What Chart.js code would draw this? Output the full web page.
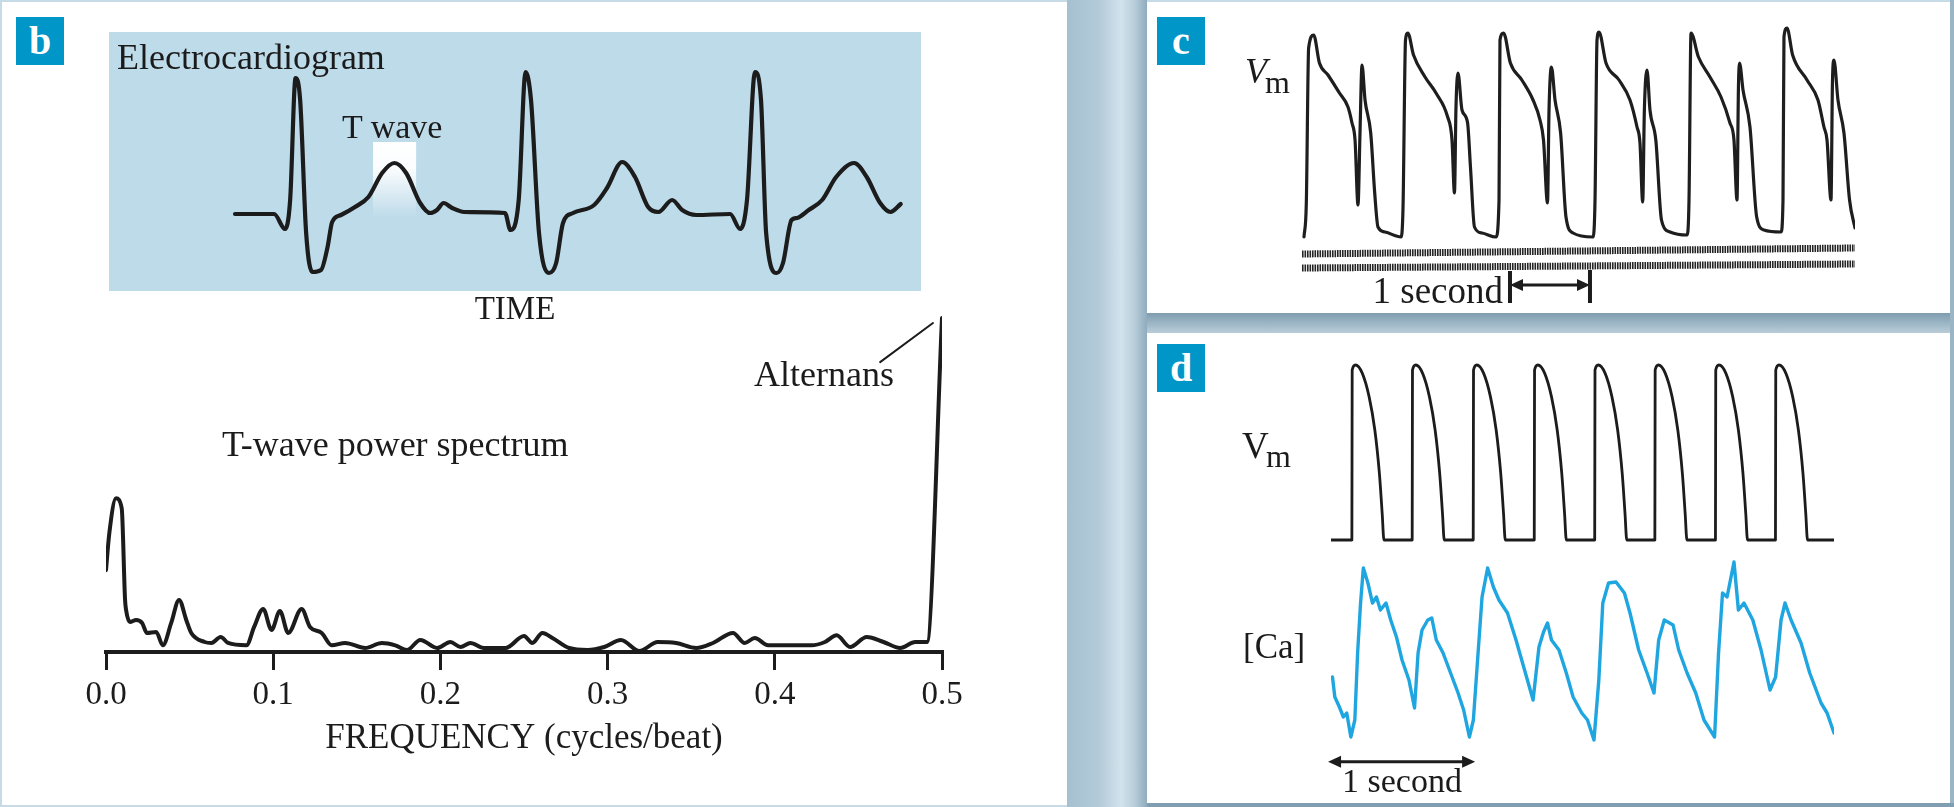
<!DOCTYPE html>
<html>
<head>
<meta charset="utf-8">
<script src="https://cdn.jsdelivr.net/npm/chart.js@4.4.0/dist/chart.umd.min.js"></script>
<style>
html, body { margin: 0; padding: 0; }
body {
  width: 1954px; height: 807px; position: relative; overflow: hidden;
  background: #c6dbe6;
  font-family: "Liberation Serif", "Times New Roman", serif; color: #1b1b1b;
}
.abs { position: absolute; }
canvas { position: absolute; }
#panelB { left: 2px; top: 2px; width: 1065px; height: 803px; background: #fff; }
#column { left: 1067px; top: 0; width: 80px; height: 807px;
  background: linear-gradient(90deg, #a5c0d0 0%, #b3cbd9 40%, #d2e3ec 68%, #b6ccd9 85%, #8fabbd 100%); }
#gapCD { left: 1147px; top: 313px; width: 807px; height: 20px;
  background: linear-gradient(180deg, #7f9db0 0%, #98b3c3 45%, #b9cdd8 100%); }
#panelC { left: 1147px; top: 2px; width: 803px; height: 311px; background: #fff; }
#panelD { left: 1147px; top: 333px; width: 803px; height: 470px; background: #fff; }
#rightEdge { left: 1950px; top: 0; width: 4px; height: 807px; background: #9ab6c6; }
#bottomD { left: 1147px; top: 803px; width: 807px; height: 4px; background: #7f9eb1; }
#ecgBox { left: 109px; top: 32px; width: 812px; height: 259px; background: #bedbea; }
.badge { width: 48px; height: 48px; background: #0096c8; color: #fff; font-weight: bold;
  font-size: 40px; display: flex; align-items: center; justify-content: center; line-height: 1; }
</style>
</head>
<body>
<div class="abs" id="panelB"></div>
<div class="abs" id="column"></div>
<div class="abs" id="panelC"></div>
<div class="abs" id="gapCD"></div>
<div class="abs" id="panelD"></div>
<div class="abs" id="rightEdge"></div>
<div class="abs" id="bottomD"></div>
<div class="abs" id="ecgBox"></div>
<div class="abs badge" style="left:16px;top:17px">b</div>
<div class="abs badge" style="left:1157px;top:17px">c</div>
<div class="abs badge" style="left:1157px;top:344px">d</div>

<canvas id="ecg" width="812" height="259" style="left:109px;top:32px"></canvas>
<canvas id="spectrum" width="1067" height="480" style="left:0;top:300px"></canvas>
<canvas id="alternans" width="807" height="313" style="left:1147px;top:0"></canvas>
<canvas id="calcium" width="807" height="470" style="left:1147px;top:333px"></canvas>

<script>
// DATA

// b: ECG, time (ms) vs voltage (mV)
const ecgTrace = [
  [0,0],[137,0],[175,-0.15],[193,0.14],[212,1.36],[228,1.14],[249,-0.19],[271,-0.58],[301,-0.56],
  [324,-0.33],[340,-0.08],[371,-0.01],[420,0.07],[467,0.17],[515,0.41],[558,0.51],[599,0.41],
  [648,0.11],[683,0.01],[707,0.04],[730,0.11],[760,0.06],[802,0.02],[945,0.01],[964,-0.16],
  [993,0.14],[1017,1.42],[1036,1.14],[1064,-0.19],[1099,-0.59],[1124,-0.49],[1148,-0.09],
  [1183,0.01],[1257,0.09],[1302,0.26],[1355,0.52],[1400,0.37],[1446,0.07],[1482,0.02],
  [1530,0.14],[1565,0.04],[1614,-0.01],[1733,0],[1768,-0.15],[1792,0.14],[1820,1.42],
  [1841,1.14],[1859,-0.19],[1896,-0.59],[1918,-0.49],[1948,-0.06],[1967,-0.04],[2008,0.04],
  [2055,0.14],[2104,0.37],[2167,0.51],[2211,0.37],[2258,0.11],[2294,0.02],[2330,0.10]
];
const tWaveWindow = [483, 634];   // ms
const tWaveLevels = [0.72, -0.04]; // mV

// b: T-wave power spectrum, frequency (cycles/beat) vs power
const spectrum = [
  [0,24.5],[0.002,35.6],[0.006,46],[0.0094,43],[0.0114,15.6],[0.012,12.6],[0.0143,9],[0.018,9.6],
  [0.0216,8.7],[0.0245,5.7],[0.030,6],[0.034,2],[0.039,8.7],[0.0437,15.6],[0.048,9.6],[0.051,5.7],
  [0.059,3],[0.063,2.7],[0.0686,4.5],[0.073,2.7],[0.084,2],[0.0886,7.5],[0.094,12.9],[0.099,6.6],
  [0.104,12.3],[0.109,5.7],[0.117,12.9],[0.122,7.5],[0.129,5.7],[0.135,2],[0.143,2.7],[0.155,1.2],
  [0.165,2.7],[0.173,2],[0.180,0.6],[0.188,3.6],[0.198,1.2],[0.206,3],[0.212,1.5],[0.218,2.7],
  [0.226,1.2],[0.239,1.2],[0.250,4.8],[0.255,2.7],[0.261,5.7],[0.267,4.2],[0.277,1.2],[0.288,0.6],
  [0.298,1.5],[0.308,3.6],[0.319,0.3],[0.330,3],[0.341,2.7],[0.353,1.2],[0.363,2.7],[0.375,5.7],
  [0.382,2.7],[0.388,4.2],[0.396,2],[0.422,2],[0.430,3],[0.437,5],[0.445,1.5],[0.455,4.5],
  [0.465,3],[0.475,1.2],[0.484,3],[0.491,3],[0.5,100]
];
const alternansLeader = [[0.463,86.8],[0.4946,98.5]];
const freqTicks = [0, 0.1, 0.2, 0.3, 0.4, 0.5];

// c: action potential alternans, time (ms) vs Vm (mV)
const vmAlternans = [
  [25,-90],[54,-73],[83,4.5],[146,11],[218,-3],[325,-9],[468,-18],[575,-25],[625,-33],[663,-41.5],
  [700,-74],[725,-38],[750,-4],[788,-21.5],[859,-38],[909,-68],[950,-85],[1038,-87.5],[1238,-90],
  [1263,-75],[1294,8.5],[1323,12],[1394,1],[1538,-10],[1675,-18],[1821,-30],[1875,-41.5],[1906,-68],
  [1925,-25],[1950,-8],[2000,-26.5],[2070,-33],[2106,-55],[2156,-85],[2250,-88],[2425,-90],
  [2463,-71.5],[2475,8.5],[2520,12],[2605,-3],[2748,-11.5],[2888,-21.5],[2975,-31.5],[3019,-41.5],
  [3069,-73],[3088,-26.5],[3118,-5],[3163,-21.5],[3233,-38],[3300,-80],[3388,-88],[3638,-90],
  [3663,-71.5],[3688,8.5],[3713,12.5],[3800,-3],[3963,-11.5],[4100,-21.5],[4188,-35],[4225,-43],
  [4259,-72.5],[4280,-26.5],[4313,-6.5],[4350,-26.5],[4423,-41.5],[4494,-81.5],[4600,-87.5],
  [4813,-89],[4838,-71.5],[4863,12],[4956,0],[5100,-10],[5238,-20],[5350,-33],[5400,-41.5],
  [5438,-71.5],[5456,-15],[5470,-3],[5513,-16.5],[5600,-35],[5684,-80],[5775,-86.5],[5988,-87.5],
  [6013,-71.5],[6025,10],[6063,14.5],[6133,1],[6313,-11.5],[6450,-21.5],[6525,-35],[6563,-41.5],
  [6613,-71.5],[6631,-13],[6650,-1.5],[6700,-21.5],[6775,-38],[6845,-71.5],[6913,-85.5]
];
const timeMarkTop = [[0,-98.5],[6913,-95.5]];
const timeMarkBottom = [[0,-105.5],[6913,-103.5]];

// d: paced Vm (mV) and [Ca] (nM), time (ms)
const vmPaced = [
  [0,-85],
  [142,-85],[144,17],[166,20],[213,15],[259,1],[298,-19],[329,-45],[348,-69],[360,-85],
  [552,-85],[554,17],[576,20],[623,15],[669,1],[708,-19],[739,-45],[758,-69],[770,-85],
  [967,-85],[969,17],[991,20],[1038,15],[1084,1],[1123,-19],[1154,-45],[1173,-69],[1185,-85],
  [1382,-85],[1384,17],[1406,20],[1453,15],[1499,1],[1538,-19],[1569,-45],[1588,-69],[1600,-85],
  [1793,-85],[1795,17],[1817,20],[1864,15],[1910,1],[1949,-19],[1980,-45],[1999,-69],[2011,-85],
  [2202,-85],[2204,17],[2226,20],[2273,15],[2319,1],[2358,-19],[2389,-45],[2408,-69],[2420,-85],
  [2614,-85],[2616,17],[2638,20],[2685,15],[2731,1],[2770,-19],[2801,-45],[2820,-69],[2832,-85],
  [3022,-85],[3024,17],[3046,20],[3093,15],[3139,1],[3178,-19],[3209,-45],[3228,-69],[3240,-85],
  [3420,-85]
];
const calcium = [
  [10,289],[26,229],[57,199],[84,169],[107,181],[135,109],[162,160],[181,361],[201,511],[220,616],
  [251,571],[282,511],[309,529],[336,490],[374,511],[406,460],[445,409],[483,340],[530,280],
  [568,196],[592,361],[619,430],[658,460],[685,466],[716,400],[762,361],[813,301],[864,241],
  [902,190],[941,109],[968,160],[1000,361],[1027,529],[1065,616],[1104,559],[1142,520],[1200,481],
  [1258,400],[1316,310],[1374,220],[1414,379],[1445,424],[1472,451],[1499,400],[1550,370],
  [1600,301],[1646,229],[1705,181],[1744,160],[1788,100],[1821,280],[1848,511],[1887,571],
  [1938,574],[1995,541],[2033,481],[2092,370],[2149,301],[2196,241],[2228,400],[2266,460],
  [2326,445],[2364,370],[2421,301],[2480,241],[2536,160],[2608,109],[2635,361],[2662,541],
  [2693,529],[2740,634],[2770,490],[2808,511],[2868,460],[2924,370],[2985,250],[3023,289],
  [3060,460],[3087,511],[3128,460],[3196,391],[3255,301],[3332,211],[3373,181],[3420,121]
];

// CHARTS

const ink = '#1c1c1c';
const serif = '"Liberation Serif", "Times New Roman", serif';
const xy = (arr) => arr.map(([x, y]) => ({ x, y }));

const base = (extra) => Object.assign({
  responsive: false,
  animation: false,
  events: [],
  plugins: { legend: { display: false }, tooltip: { enabled: false } },
}, extra);

const traceStyle = (color, width) => ({
  borderColor: color, borderWidth: width, pointRadius: 0, fill: false,
  cubicInterpolationMode: 'monotone', borderJoinStyle: 'round', borderCapStyle: 'round'
});

// white fade over the T wave
const tWaveHighlight = {
  id: 'tWaveHighlight',
  beforeDatasetsDraw(chart) {
    const { x, y } = chart.scales;
    const ctx = chart.ctx;
    const x0 = x.getPixelForValue(tWaveWindow[0]), x1 = x.getPixelForValue(tWaveWindow[1]);
    const y0 = y.getPixelForValue(tWaveLevels[0]), y1 = y.getPixelForValue(tWaveLevels[1]);
    const g = ctx.createLinearGradient(0, y0, 0, y1);
    g.addColorStop(0, 'rgba(255,255,255,1)');
    g.addColorStop(0.35, 'rgba(255,255,255,0.92)');
    g.addColorStop(1, 'rgba(255,255,255,0)');
    ctx.save();
    ctx.fillStyle = g;
    ctx.fillRect(x0, y0, x1 - x0, y1 - y0);
    ctx.restore();
  }
};

// "1 second" bar, drawn through the x scale
const scaleBar = {
  id: 'scaleBar',
  afterDatasetsDraw(chart, args, opts) {
    const xs = chart.scales.x, ys = chart.scales[opts.yAxis || 'y'];
    const ctx = chart.ctx;
    const x0 = xs.getPixelForValue(opts.t0), x1 = xs.getPixelForValue(opts.t0 + 1000);
    const yy = ys.getPixelForValue(opts.v);
    ctx.save();
    ctx.strokeStyle = ink; ctx.fillStyle = ink;
    ctx.lineWidth = 3;
    ctx.beginPath(); ctx.moveTo(x0 + 6, yy); ctx.lineTo(x1 - 6, yy); ctx.stroke();
    [[x0, 1], [x1, -1]].forEach(([px, dir]) => {
      ctx.beginPath();
      ctx.moveTo(px, yy);
      ctx.lineTo(px + dir * 13, yy - 6);
      ctx.lineTo(px + dir * 13, yy + 6);
      ctx.closePath(); ctx.fill();
    });
    if (opts.ends) {
      ctx.lineWidth = 4;
      ctx.beginPath();
      ctx.moveTo(x0, yy - 14); ctx.lineTo(x0, yy + 18);
      ctx.moveTo(x1, yy - 15); ctx.lineTo(x1, yy + 18);
      ctx.stroke();
    }
    ctx.restore();
  }
};

new Chart(document.getElementById('ecg'), {
  type: 'line',
  data: { datasets: [Object.assign({ data: xy(ecgTrace) }, traceStyle(ink, 4.2))] },
  options: base({
    layout: { padding: 0 },
    scales: {
      x: { type: 'linear', min: -441, max: 2401, display: false },
      y: { min: -0.77, max: 1.82, display: false }
    }
  }),
  plugins: [tWaveHighlight]
});

new Chart(document.getElementById('spectrum'), {
  type: 'line',
  data: {
    datasets: [
      Object.assign({ data: xy(spectrum) }, traceStyle(ink, 4)),
      Object.assign({ data: xy(alternansLeader) }, traceStyle(ink, 2))
    ]
  },
  options: base({
    layout: { padding: { left: 106, right: 125, top: 10, bottom: 0 } },
    scales: {
      x: {
        type: 'linear', min: 0, max: 0.5, position: 'bottom',
        afterBuildTicks: (s) => { s.ticks = freqTicks.map((v) => ({ value: v })); },
        border: { display: true, color: ink, width: 4 },
        grid: { display: true, drawOnChartArea: false, drawTicks: true, tickLength: 18, color: ink, lineWidth: 3 },
        ticks: {
          color: ink, padding: 6, maxRotation: 0, autoSkip: false,
          font: { family: serif, size: 33 },
          callback: (v) => Number(v).toFixed(1)
        },
        title: {
          display: true, text: 'FREQUENCY (cycles/beat)', color: ink,
          font: { family: serif, size: 35 }, padding: { top: 0, bottom: 20 }
        },
        afterFit: (s) => { s.height = 128; s.paddingLeft = 0; s.paddingRight = 0; }
      },
      y: { min: 0, max: 102.4, display: false }
    }
  })
});

new Chart(document.getElementById('alternans'), {
  type: 'line',
  data: {
    datasets: [
      Object.assign({ data: xy(vmAlternans) }, traceStyle('#1e1e1e', 3.2)),
      { data: xy(timeMarkTop), borderColor: 'rgba(20,20,20,0.92)', borderWidth: 7, borderDash: [1.6, 0.9], pointRadius: 0 },
      { data: xy(timeMarkBottom), borderColor: 'rgba(20,20,20,0.92)', borderWidth: 7, borderDash: [1.6, 0.9], pointRadius: 0 }
    ]
  },
  options: base({
    layout: { padding: { left: 155, right: 99, top: 20, bottom: 38 } },
    plugins: {
      legend: { display: false }, tooltip: { enabled: false },
      scaleBar: { t0: 2600, v: -114, ends: true }
    },
    scales: {
      x: { type: 'linear', min: 0, max: 6913, display: false },
      y: { min: -109, max: 18.5, display: false }
    }
  }),
  plugins: [scaleBar]
});

new Chart(document.getElementById('calcium'), {
  type: 'line',
  data: {
    datasets: [
      Object.assign({ data: xy(vmPaced), yAxisID: 'yV' }, traceStyle(ink, 2.8)),
      Object.assign({ data: xy(calcium), yAxisID: 'yCa' }, traceStyle('#1fa6e0', 3.4), { cubicInterpolationMode: 'default', tension: 0 })
    ]
  },
  options: base({
    layout: { padding: { left: 184, right: 120, top: 22, bottom: 58 } },
    plugins: {
      legend: { display: false }, tooltip: { enabled: false },
      scaleBar: { t0: -20, v: -218, yAxis: 'yV', ends: false }
    },
    scales: {
      x: { type: 'linear', min: 0, max: 3420, display: false },
      yV: { min: -208, max: 26, display: false },
      yCa: { min: 85, max: 1255, display: false }
    }
  }),
  plugins: [scaleBar]
});

// TEXT
function label(text, x, baseline, size, opt = {}) {
  const d = document.createElement('div');
  d.className = 'abs';
  d.textContent = text;
  d.style.fontSize = size + 'px';
  d.style.lineHeight = '1';
  d.style.whiteSpace = 'nowrap';
  d.style.top = (baseline - 0.8375 * size) + 'px';
  if (opt.align === 'center') { d.style.left = x + 'px'; d.style.transform = 'translateX(-50%)'; }
  else if (opt.align === 'right') { d.style.right = (1954 - x) + 'px'; }
  else d.style.left = x + 'px';
  if (opt.italic) d.style.fontStyle = 'italic';
  document.body.appendChild(d);
}
label('Electrocardiogram', 117, 69, 36);
label('T wave', 342, 138, 34);
label('TIME', 515, 320, 33, { align: 'center' });
label('T-wave power spectrum', 222, 456, 36);
label('Alternans', 754, 386, 36);
label('V', 1245, 83, 36, { italic: true });
label('m', 1265, 93, 32);
label('1 second', 1503, 303, 37, { align: 'right' });
label('V', 1242, 458, 37);
label('m', 1266, 467, 32);
label('[Ca]', 1243, 658, 35);
label('1 second', 1402, 792, 34, { align: 'center' });
</script>
</body>
</html>
